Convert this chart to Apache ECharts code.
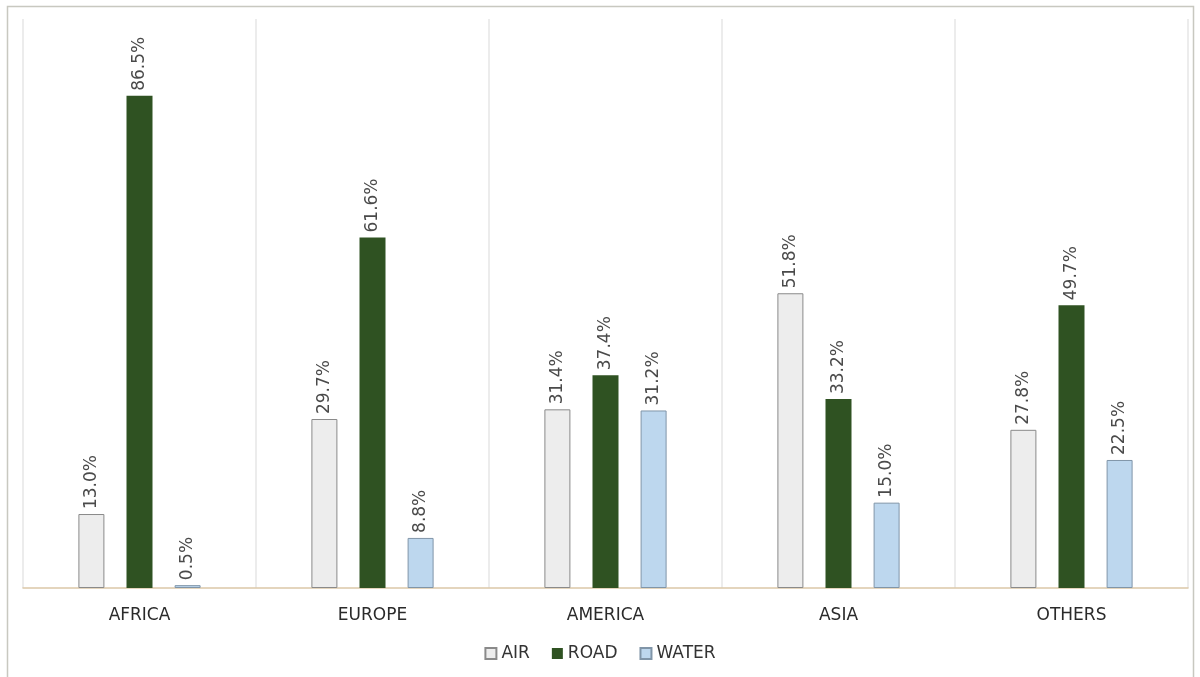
<!DOCTYPE html>
<html><head><meta charset="utf-8">
<script src="https://cdn.jsdelivr.net/npm/echarts@6/dist/echarts.min.js"></script>
<style>html,body{margin:0;padding:0;background:#fff}#c{width:1200px;height:677px}</style>
</head><body><div id="c"></div>
<script>
const categories = ['AFRICA', 'EUROPE', 'AMERICA', 'ASIA', 'OTHERS'];
const air = [13.0, 29.7, 31.4, 51.8, 27.8];
const road = [86.5, 61.6, 37.4, 33.2, 49.7];
const water = [0.5, 8.8, 31.2, 15.0, 22.5];
const seriesNames = ['AIR', 'ROAD', 'WATER'];

const chart = echarts.init(document.getElementById('c'));
const font = '"DejaVu Sans", "Open Sans", sans-serif';
const lbl = {
  show: true, position: 'top', rotate: 90, align: 'left', verticalAlign: 'middle',
  distance: 5, fontFamily: font, fontSize: 17, color: '#4a4a4a',
  formatter: p => p.value.toFixed(1) + '%'
};
function mk(name, data, color, border) {
  return {
    name, type: 'bar', data, barWidth: 26, barGap: '85%',
    itemStyle: { color, borderColor: border, borderWidth: border ? 1 : 0 },
    label: lbl
  };
}
chart.setOption({
  animation: false,
  backgroundColor: '#fff',
  graphic: [{ type: 'rect', shape: { x: 7.5, y: 6.5, width: 1186, height: 690 },
    style: { fill: 'none', stroke: '#c8c8c0', lineWidth: 1.5 }, silent: true }],
  grid: { left: 23, right: 12, top: 19, bottom: 89 },
  xAxis: {
    type: 'category', data: categories,
    axisLine: { lineStyle: { color: '#dcc7a8', width: 1.5 } },
    axisTick: { show: false },
    splitLine: { show: true, lineStyle: { color: '#e6e6e6', width: 1.5 } },
    axisLabel: { margin: 19, fontFamily: font, fontSize: 17, color: '#2a2a2a' }
  },
  yAxis: { type: 'value', min: 0, max: 100, show: false, splitLine: { show: false } },
  legend: {
    bottom: 10, left: 'center', icon: 'rect', itemWidth: 11, itemHeight: 11, itemGap: 22,
    textStyle: { fontFamily: font, fontSize: 17, color: '#333' },
    data: seriesNames
  },
  series: [
    mk(seriesNames[0], air, '#ededed', '#8a8a8a'),
    mk(seriesNames[1], road, '#2f5222', null),
    mk(seriesNames[2], water, '#bdd7ee', '#8095a8')
  ]
});
</script></body></html>
